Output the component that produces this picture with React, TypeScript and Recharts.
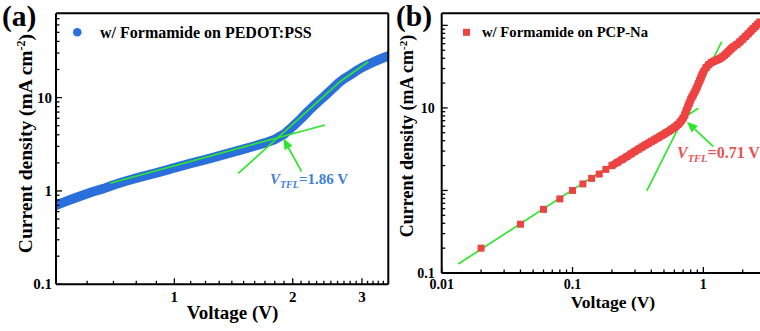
import React from 'react';
import { ComposedChart, Line, Scatter, XAxis, YAxis, ReferenceLine } from 'recharts';

const SERIF = '"Liberation Serif", "Times New Roman", Times, serif';
const BLUE = '#2a6fdb';
const RED = '#ee4343';
const GREEN = '#2ee62e';
const BLUE_TEXT = '#3f80d8';
const RED_TEXT = '#e25555';

// ---------------- Panel (a): w/ Formamide on PEDOT:PSS ----------------
const voltageA = [0.50, 0.52, 0.55, 0.58, 0.62, 0.66, 0.70, 0.75, 0.80, 0.85, 0.90, 0.95, 1.00, 1.10, 1.20, 1.30, 1.40, 1.50, 1.60, 1.70, 1.80, 1.90, 2.00, 2.10, 2.20, 2.30, 2.40, 2.50, 2.60, 2.64, 2.70, 2.80, 2.90, 3.00, 3.10, 3.20, 3.30, 3.40, 3.50];
const currentA = [0.70, 0.75, 0.82, 0.89, 0.98, 1.06, 1.16, 1.27, 1.37, 1.47, 1.56, 1.66, 1.77, 1.97, 2.17, 2.38, 2.59, 2.81, 3.03, 3.27, 3.56, 4.05, 4.90, 5.95, 7.30, 8.70, 10.2, 12.0, 14.0, 14.8, 15.9, 17.5, 19.3, 21.0, 22.5, 23.9, 25.3, 26.7, 28.0];
const fit1VoltageA = [0.686, 2.415];
const fit1CurrentA = [1.208, 5.09];
const fit2VoltageA = [1.454, 2.637, 3.112];
const fit2CurrentA = [1.546, 14.8, 24.2];
const arrowVoltageA = [2.107, 1.892];
const arrowCurrentA = [1.608, 3.66];

const xMajorA = [1, 2, 3];
const xLabelsA = ['1', '2', '3'];
const xMinorA = [0.6, 0.7, 0.8, 0.9, 1.1, 1.2, 1.3, 1.4, 1.5, 1.6, 1.7, 1.8, 1.9, 2.1, 2.2, 2.3, 2.4, 2.5, 2.6, 2.7, 2.8, 2.9, 3.1, 3.2, 3.3, 3.4];
const yMajorA = [0.1, 1, 10];
const yLabelsA = ['0.1', '1', '10'];
const yMinorA = [0.2, 0.3, 0.4, 0.5, 0.6, 0.7, 0.8, 0.9, 2, 3, 4, 5, 6, 7, 8, 9, 20, 30, 40, 50, 60, 70];

// ---------------- Panel (b): w/ Formamide on PCP-Na ----------------
const voltageB = [0.02, 0.04, 0.06, 0.08, 0.10, 0.12, 0.14, 0.16, 0.18, 0.20, 0.22, 0.24, 0.26, 0.28, 0.30, 0.32, 0.34, 0.36, 0.38, 0.40, 0.42, 0.44, 0.46, 0.48, 0.50, 0.52, 0.54, 0.56, 0.58, 0.60, 0.62, 0.64, 0.66, 0.68, 0.70, 0.72, 0.74, 0.76, 0.78, 0.80, 0.82, 0.84, 0.86, 0.88, 0.90, 0.92, 0.94, 0.96, 0.98, 1.00, 1.05, 1.10, 1.15, 1.20, 1.25, 1.30, 1.35, 1.40, 1.45, 1.50, 1.55, 1.60, 1.65, 1.70, 1.80, 1.90, 2.00, 2.10, 2.20, 2.30, 2.40, 2.50, 2.60, 2.71];
const currentB = [0.20, 0.39, 0.59, 0.79, 1.00, 1.20, 1.40, 1.58, 1.80, 2.00, 2.19, 2.38, 2.57, 2.77, 2.98, 3.17, 3.36, 3.55, 3.73, 3.91, 4.09, 4.27, 4.45, 4.63, 4.81, 5.00, 5.19, 5.38, 5.58, 5.80, 6.03, 6.30, 6.62, 7.00, 7.50, 8.20, 9.20, 10.3, 11.4, 12.5, 13.6, 14.6, 15.6, 16.9, 18.3, 19.8, 21.5, 23.3, 25.3, 27.2, 30.8, 33.5, 35.5, 36.8, 37.8, 38.8, 40.0, 41.5, 43.5, 45.5, 48.0, 50.5, 53.0, 55.0, 58.5, 63.0, 68.0, 73.5, 79.0, 85.0, 91.0, 97.0, 103, 110];
const fit1VoltageB = [0.01339, 0.9158];
const fit1CurrentB = [0.1286, 9.92];
const fit2VoltageB = [0.3694, 1.3826];
const fit2CurrentB = [0.986, 63.6];
const arrowVoltageB = [1.193, 0.7466];
const arrowCurrentB = [3.40, 6.82];

const xMajorB = [0.01, 0.1, 1];
const xLabelsB = ['0.01', '0.1', '1'];
const xMinorB = [0.02, 0.03, 0.04, 0.05, 0.06, 0.07, 0.08, 0.09, 0.2, 0.3, 0.4, 0.5, 0.6, 0.7, 0.8, 0.9, 2];
const yMajorB = [0.1, 1, 10, 100];
const yLabelsB = ['0.1', '', '10', ''];
const yMinorB = [0.2, 0.3, 0.4, 0.5, 0.6, 0.7, 0.8, 0.9, 2, 3, 4, 5, 6, 7, 8, 9, 20, 30, 40, 50, 60, 70, 80, 90];

const toPoints = (vs: number[], js: number[]) => vs.map((v, i) => ({ v, j: js[i] }));

const seriesA = toPoints(voltageA, currentA);
const fit1A = toPoints(fit1VoltageA, fit1CurrentA);
const fit2A = toPoints(fit2VoltageA, fit2CurrentA);
const seriesB = toPoints(voltageB, currentB);
const denseB = seriesB.filter((p) => p.v >= 0.2);
const fit1B = toPoints(fit1VoltageB, fit1CurrentB);
const fit2B = toPoints(fit2VoltageB, fit2CurrentB);

type Side = 'bottom' | 'left' | 'top' | 'right';

function makeTick(side: Side, majors: number[], labels: string[] | null, fontSize: number, gap: number) {
  return (props: any) => {
    const { x, y, payload } = props;
    const v = Number(payload.value);
    const idx = majors.findIndex((m) => Math.abs(m - v) / m < 1e-6);
    const major = idx >= 0;
    const len = major ? 6 : 3.5;
    const dx = side === 'left' ? len : side === 'right' ? -len : 0;
    const dy = side === 'bottom' ? -len : side === 'top' ? len : 0;
    const label = major && labels ? labels[idx] : '';
    return (
      <g>
        <line x1={x} y1={y} x2={x + dx} y2={y + dy} stroke="#000" strokeWidth={1.3} />
        {label ? (
          side === 'bottom' ? (
            <text x={x} y={y + gap} textAnchor="middle" fontFamily={SERIF} fontWeight="bold" fontSize={fontSize} fill="#000">
              {label}
            </text>
          ) : (
            <text x={x - gap} y={y + fontSize * 0.34} textAnchor="end" fontFamily={SERIF} fontWeight="bold" fontSize={fontSize} fill="#000">
              {label}
            </text>
          )
        ) : null}
      </g>
    );
  };
}

const ArrowShape = (p: any) => {
  const { x1, y1, x2, y2 } = p;
  const ang = Math.atan2(y2 - y1, x2 - x1);
  const L = 11;
  const W = 4.5;
  const bx = x2 - L * Math.cos(ang);
  const by = y2 - L * Math.sin(ang);
  const px = -Math.sin(ang) * W;
  const py = Math.cos(ang) * W;
  return (
    <g>
      <line x1={x1} y1={y1} x2={bx} y2={by} stroke={GREEN} strokeWidth={1.7} />
      <polygon points={`${x2},${y2} ${bx + px},${by + py} ${bx - px},${by - py}`} fill={GREEN} />
    </g>
  );
};

const SquareDot = (p: any) => {
  const { cx, cy } = p;
  if (cx == null || cy == null) return <g />;
  return <rect x={cx - 3.5} y={cy - 3.5} width={7} height={7} fill={RED} />;
};

const AXIS_LINE = { stroke: '#000', strokeWidth: 2 };

function PanelA() {
  const xDomain: [number, number] = [0.5, 3.5];
  const yDomain: [number, number] = [0.1, 80];
  return (
    <ComposedChart width={400} height={331} margin={{ top: 12.3, right: 10.7, bottom: 45.7, left: 55 }}>
      <XAxis
        dataKey="v"
        type="number"
        scale="log"
        domain={xDomain}
        allowDataOverflow
        ticks={[...xMajorA, ...xMinorA]}
        interval={0}
        tickSize={0}
        tickMargin={0}
        tickLine={false}
        tick={makeTick('bottom', xMajorA, xLabelsA, 15, 18)}
        axisLine={AXIS_LINE}
        height={1}
      />
      <XAxis xAxisId="top" orientation="top" type="number" scale="log" domain={xDomain} allowDataOverflow tick={false} tickLine={false} axisLine={AXIS_LINE} height={1} />
      <YAxis
        dataKey="j"
        type="number"
        scale="log"
        domain={yDomain}
        allowDataOverflow
        ticks={[...yMajorA, ...yMinorA]}
        interval={0}
        tickSize={0}
        tickMargin={0}
        tickLine={false}
        tick={makeTick('left', yMajorA, yLabelsA, 15, 4)}
        axisLine={AXIS_LINE}
        width={1}
      />
      <YAxis yAxisId="right" orientation="right" type="number" scale="log" domain={yDomain} allowDataOverflow tick={false} tickLine={false} axisLine={AXIS_LINE} width={1} />
      <Line data={seriesA} dataKey="j" type="linear" stroke={BLUE} strokeWidth={9.5} strokeLinecap="round" strokeLinejoin="round" dot={false} isAnimationActive={false} />
      <Line data={fit1A} dataKey="j" type="linear" stroke={GREEN} strokeWidth={1.7} dot={false} isAnimationActive={false} />
      <Line data={fit2A} dataKey="j" type="linear" stroke={GREEN} strokeWidth={1.7} dot={false} isAnimationActive={false} />
      <ReferenceLine
        segment={[
          { x: arrowVoltageA[0], y: arrowCurrentA[0] },
          { x: arrowVoltageA[1], y: arrowCurrentA[1] },
        ]}
        shape={ArrowShape}
        ifOverflow="visible"
      />
    </ComposedChart>
  );
}

function PanelB() {
  const xDomain: [number, number] = [0.01, 2.71];
  const yDomain: [number, number] = [0.1, 140];
  return (
    <ComposedChart width={360} height={331} margin={{ top: 12.3, right: 0, bottom: 57, left: 40.7 }}>
      <XAxis
        dataKey="v"
        type="number"
        scale="log"
        domain={xDomain}
        allowDataOverflow
        ticks={[...xMajorB, ...xMinorB]}
        interval={0}
        tickSize={0}
        tickMargin={0}
        tickLine={false}
        tick={makeTick('bottom', xMajorB, xLabelsB, 14, 16)}
        axisLine={AXIS_LINE}
        height={1}
      />
      <XAxis
        xAxisId="top"
        orientation="top"
        type="number"
        scale="log"
        domain={xDomain}
        allowDataOverflow
        ticks={[...xMajorB, ...xMinorB]}
        interval={0}
        tickSize={0}
        tickMargin={0}
        tickLine={false}
        tick={makeTick('top', xMajorB, null, 14, 0)}
        axisLine={AXIS_LINE}
        height={1}
      />
      <YAxis
        dataKey="j"
        type="number"
        scale="log"
        domain={yDomain}
        allowDataOverflow
        ticks={[...yMajorB, ...yMinorB]}
        interval={0}
        tickSize={0}
        tickMargin={0}
        tickLine={false}
        tick={makeTick('left', yMajorB, yLabelsB, 14, 7)}
        axisLine={AXIS_LINE}
        width={1}
      />
      <Line data={denseB} dataKey="j" type="linear" stroke={RED} strokeWidth={8} strokeLinejoin="miter" dot={false} isAnimationActive={false} />
      <Scatter data={seriesB} dataKey="j" fill={RED} shape={SquareDot} isAnimationActive={false} />
      <Line data={fit1B} dataKey="j" type="linear" stroke={GREEN} strokeWidth={1.7} dot={false} isAnimationActive={false} />
      <Line data={fit2B} dataKey="j" type="linear" stroke={GREEN} strokeWidth={1.7} dot={false} isAnimationActive={false} />
      <ReferenceLine
        segment={[
          { x: arrowVoltageB[0], y: arrowCurrentB[0] },
          { x: arrowVoltageB[1], y: arrowCurrentB[1] },
        ]}
        shape={ArrowShape}
        ifOverflow="visible"
      />
    </ComposedChart>
  );
}

function Overlay() {
  const common = { fontFamily: SERIF, fontWeight: 'bold' as const, fill: '#000' };
  return (
    <svg width={760} height={331} style={{ position: 'absolute', left: 0, top: 0, pointerEvents: 'none' }}>
      <text x={2} y={26} fontSize={29.5} {...common}>(a)</text>
      <text x={396} y={26} fontSize={29.5} {...common}>(b)</text>

      <circle cx={77.3} cy={32.3} r={4.3} fill={BLUE} />
      <text x={100} y={37.5} fontSize={16} {...common}>w/ Formamide on PEDOT:PSS</text>
      <rect x={463} y={28.8} width={7} height={7} fill={RED} />
      <text x={482} y={37.2} fontSize={14.7} {...common}>w/ Formamide on PCP-Na</text>

      <text x={270} y={184} fontSize={15} fontFamily={SERIF} fontWeight="bold" fill={BLUE_TEXT}>
        <tspan fontStyle="italic">V</tspan>
        <tspan fontStyle="italic" fontSize={10} dy={3.5}>TFL</tspan>
        <tspan dy={-3.5}>=1.86 V</tspan>
      </text>
      <text x={677} y={158} fontSize={16} fontFamily={SERIF} fontWeight="bold" fill={RED_TEXT}>
        <tspan fontStyle="italic">V</tspan>
        <tspan fontStyle="italic" fontSize={10.5} dy={4}>TFL</tspan>
        <tspan dy={-4}>=0.71 V</tspan>
      </text>

      <text x={232.5} y={319} fontSize={19} textAnchor="middle" {...common}>Voltage (V)</text>
      <text x={613} y={308} fontSize={17.5} textAnchor="middle" {...common}>Voltage (V)</text>

      <text transform="translate(31.5,143.5) rotate(-90)" fontSize={19.5} textAnchor="middle" {...common}>
        Current density (mA cm<tspan dy={-7} fontSize={12}>-2</tspan><tspan dy={7}>)</tspan>
      </text>
      <text transform="translate(413,136) rotate(-90)" fontSize={18} textAnchor="middle" {...common}>
        Current density (mA cm<tspan dy={-6.5} fontSize={11}>-2</tspan><tspan dy={6.5}>)</tspan>
      </text>
    </svg>
  );
}

export default function App() {
  return (
    <div style={{ position: 'absolute', left: 0, top: 0, width: 760, height: 331, overflow: 'hidden', background: '#fff' }}>
      <div style={{ position: 'absolute', left: 0, top: 0 }}>
        <PanelA />
      </div>
      <div style={{ position: 'absolute', left: 400, top: 0 }}>
        <PanelB />
      </div>
      <Overlay />
    </div>
  );
}
